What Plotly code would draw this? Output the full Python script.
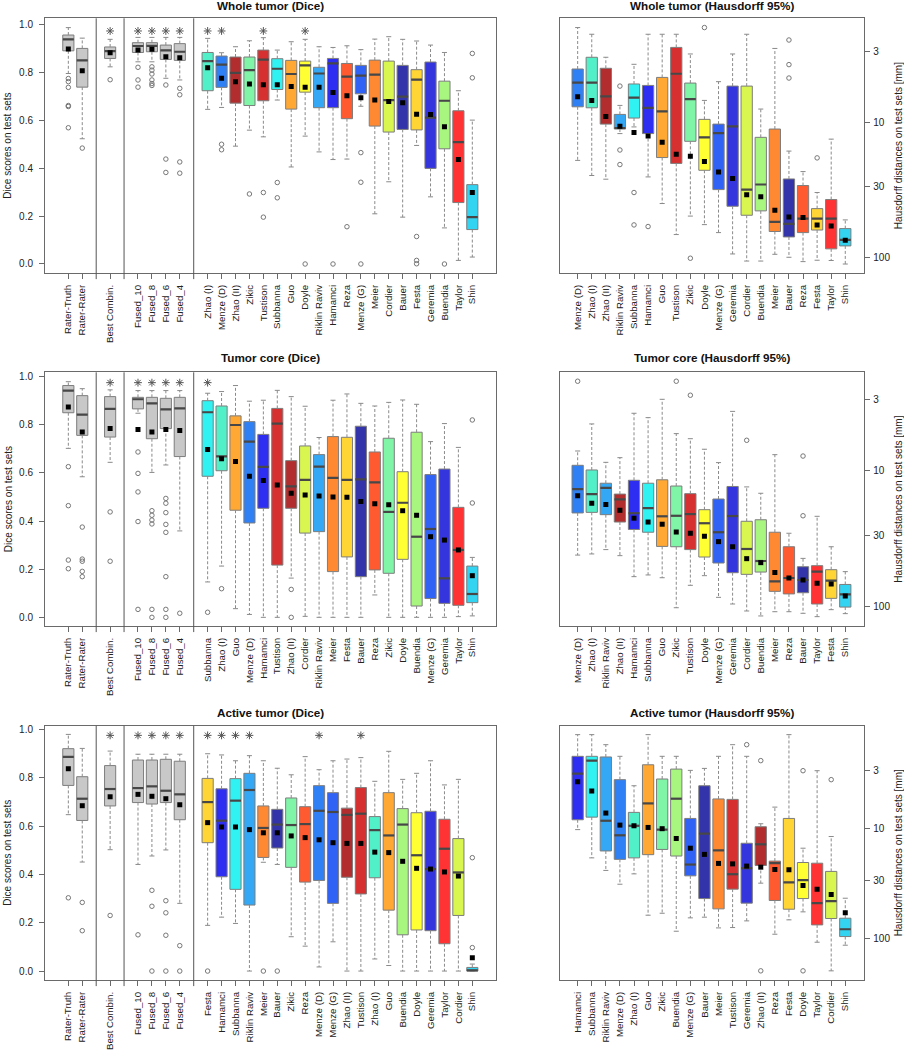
import plotly.graph_objects as go

FONT = "Liberation Sans, Arial, sans-serif"
TXT = "#222222"
FRAME = "#6a6a6a"
BOX_LINE = "#7d7d7d"
WHISK = "#8a8a8a"
MED = "#474747"
REF_GRAY = "#C8C8C8"
STAR_Y = 0.975

COLORS = {
    "Zhao (I)": "#52F0C8", "Menze (D)": "#2F80F5", "Zhao (II)": "#B22E2E",
    "Zikic": "#80F5A8", "Tustison": "#D63030", "Subbanna": "#30F2F2",
    "Guo": "#FFA833", "Doyle": "#FFFF33", "Riklin Raviv": "#35A8F5",
    "Hamamci": "#2E2EF2", "Reza": "#FF5A30", "Menze (G)": "#3062F5",
    "Meier": "#FF8833", "Cordier": "#D8F550", "Bauer": "#3333AA",
    "Festa": "#FFD535", "Geremia": "#3535DD", "Buendia": "#A8F580",
    "Taylor": "#FF3333", "Shin": "#33D3F2",
}

REF_GROUPS = [["Rater-Truth", "Rater-Rater"], ["Best Combin."],
              ["Fused_10", "Fused_8", "Fused_6", "Fused_4"]]
REF_NAMES = [n for g in REF_GROUPS for n in g]

# ---------------- Whole tumor (Dice) ----------------
wt_dice_methods = ["Zhao (I)", "Menze (D)", "Zhao (II)", "Zikic", "Tustison", "Subbanna", "Guo", "Doyle",
                   "Riklin Raviv", "Hamamci", "Reza", "Menze (G)", "Meier", "Cordier", "Bauer", "Festa",
                   "Geremia", "Buendia", "Taylor", "Shin"]
wt_dice_lo = [0.797, 0.524, 0.825, 0.846, 0.846, 0.777, 0.77,
              0.647, 0.655, 0.493, 0.56, 0.532, 0.686, 0.406, 0.535, 0.469, 0.437, 0.439, 0.66, 0.21,
              0.344, 0.196, 0.496, 0.281, 0.151, 0.015, 0.029]
wt_dice_q1 = [0.892, 0.74, 0.86, 0.885, 0.888, 0.856, 0.852,
              0.725, 0.739, 0.673, 0.663, 0.683, 0.73, 0.648, 0.719, 0.654, 0.654, 0.608, 0.712, 0.577,
              0.552, 0.563, 0.561, 0.40, 0.482, 0.257, 0.144]
wt_dice_med = [0.94, 0.852, 0.891, 0.912, 0.913, 0.894, 0.888,
               0.849, 0.834, 0.80, 0.811, 0.855, 0.817, 0.795, 0.831, 0.797, 0.839, 0.784, 0.788, 0.792,
               0.686, 0.70, 0.771, 0.612, 0.683, 0.51, 0.196]
wt_dice_q3 = [0.958, 0.902, 0.908, 0.926, 0.926, 0.916, 0.922,
              0.885, 0.870, 0.866, 0.866, 0.895, 0.859, 0.852, 0.849, 0.823, 0.86, 0.839, 0.831, 0.853,
              0.849, 0.831, 0.813, 0.845, 0.765, 0.641, 0.332]
wt_dice_hi = [0.989, 0.945, 0.94, 0.948, 0.948, 0.948, 0.948,
              0.944, 0.884, 0.909, 0.934, 0.947, 0.895, 0.93, 0.94, 0.909, 0.906, 0.913, 0.897, 0.941,
              0.951, 0.94, 0.933, 0.916, 0.885, 0.725, 0.602]
wt_dice_mean = [0.90, 0.809, 0.884, 0.895, 0.898, 0.867, 0.863,
                0.821, 0.777, 0.763, 0.753, 0.75, 0.75, 0.743, 0.74, 0.739, 0.718, 0.704, 0.696, 0.686,
                0.68, 0.675, 0.627, 0.626, 0.574, 0.437, 0.299]
wt_dice_out = {
    "Rater-Truth": [0.776, 0.763, 0.739, 0.663, 0.659, 0.57], "Rater-Rater": [0.485],
    "Best Combin.": [0.771], "Fused_10": [0.823, 0.77, 0.74],
    "Fused_8": [0.825, 0.811, 0.795, 0.77, 0.755, 0.747], "Fused_6": [0.749, 0.439, 0.383],
    "Fused_4": [0.735, 0.708, 0.427, 0.38], "Menze (D)": [0.501, 0.478], "Zikic": [0.293],
    "Tustison": [0.299, 0.196], "Subbanna": [0.341, 0.277], "Doyle": [0.0], "Hamamci": [0.0],
    "Reza": [0.156], "Menze (G)": [0.466, 0.342, 0.0], "Festa": [0.115, 0.015, 0.001],
    "Buendia": [0.0], "Shin": [0.881, 0.779],
}
wt_dice_stars = ["Best Combin.", "Fused_10", "Fused_8", "Fused_6", "Fused_4",
                 "Zhao (I)", "Menze (D)", "Tustison", "Doyle"]

# ---------------- Whole tumor (Hausdorff 95%) ----------------
wt_hd_methods = ["Menze (D)", "Zhao (I)", "Zhao (II)", "Riklin Raviv", "Subbanna", "Hamamci", "Guo", "Tustison",
                 "Zikic", "Doyle", "Menze (G)", "Geremia", "Cordier", "Buendia", "Meier", "Bauer", "Reza",
                 "Festa", "Taylor", "Shin"]
wt_hd_lo = [1.99, 2.23, 3.3, 7.49, 3.72, 2.23, 2.23, 2.23, 3.12, 6.88, 5.0, 3.12, 2.23, 7.97, 2.84, 16.3, 23.1,
            33.0, 13.3, 52.6]
wt_hd_q1 = [4.03, 3.30, 3.98, 8.73, 5.2, 5.33, 4.65, 2.79, 5.12, 9.5, 10.3, 5.39, 5.39, 12.9, 11.2, 26.2, 29.3,
            43.4, 37.2, 61.0]
wt_hd_med = [5.09, 5.09, 6.43, 11.0, 6.57, 7.8, 8.3, 4.37, 6.72, 12.9, 12.0, 10.7, 31.4, 28.8, 54.4, 56.3, 51.4,
             51.4, 51.4, 73.8]
wt_hd_q3 = [7.67, 7.8, 10.3, 11.2, 9.29, 12.1, 18.2, 20.1, 13.8, 22.6, 31.4, 41.7, 48.6, 45.1, 64.1, 70.3, 65.3,
            62.5, 86.1, 81.9]
wt_hd_hi = [19.1, 24.7, 26.3, 12.1, 10.8, 25.3, 39.8, 67.5, 49.3, 57.0, 65.3, 93.9, 106, 106, 94.5, 99.4, 107,
            104.5, 105, 111.5]
wt_hd_mean = [6.46, 6.88, 9.04, 10.7, 11.9, 12.6, 14.0, 17.2, 17.8, 19.5, 23.3, 26.0, 34.3, 35.5, 44.6, 50.0,
              50.6, 57.3, 58.3, 74.3]
wt_hd_out = {"Riklin Raviv": [5.39, 16.0, 20.5], "Subbanna": [33.0, 57.3], "Hamamci": [58.9], "Zikic": [101],
             "Doyle": [1.99], "Bauer": [2.46, 3.74, 4.70], "Festa": [18.3]}

# ---------------- Tumor core (Dice) ----------------
tc_dice_methods = ["Subbanna", "Zhao (I)", "Guo", "Menze (D)", "Hamamci", "Tustison", "Zhao (II)", "Cordier",
                   "Riklin Raviv", "Meier", "Festa", "Bauer", "Reza", "Zikic", "Doyle", "Buendia", "Menze (G)",
                   "Geremia", "Taylor", "Shin"]
tc_dice_lo = [0.702, 0.584, 0.644, 0.848, 0.602, 0.633, 0.359,
              0.147, 0.213, 0.036, 0.012, 0.0, 0.0, 0.163, 0.004, 0.0, 0.0, 0.0, 0.0, 0.093, 0.0, 0.0, 0.0,
              0.0, 0.0, 0.003, 0.006]
tc_dice_q1 = [0.85, 0.756, 0.749, 0.866, 0.742, 0.784, 0.668,
              0.586, 0.609, 0.445, 0.392, 0.453, 0.217, 0.453, 0.35, 0.356, 0.19, 0.251, 0.169, 0.197, 0.183,
              0.241, 0.047, 0.078, 0.058, 0.05, 0.061]
tc_dice_med = [0.942, 0.842, 0.866, 0.906, 0.889, 0.864, 0.868,
               0.852, 0.669, 0.799, 0.73, 0.625, 0.805, 0.544, 0.571, 0.626, 0.579, 0.571, 0.573, 0.561, 0.438,
               0.476, 0.335, 0.367, 0.162, 0.28, 0.097]
tc_dice_q3 = [0.963, 0.921, 0.917, 0.914, 0.914, 0.91, 0.914,
              0.90, 0.878, 0.837, 0.813, 0.76, 0.868, 0.651, 0.712, 0.676, 0.751, 0.748, 0.794, 0.687, 0.744,
              0.605, 0.769, 0.593, 0.616, 0.457, 0.213]
tc_dice_hi = [0.979, 0.95, 0.945, 0.942, 0.942, 0.942, 0.942,
              0.931, 0.938, 0.963, 0.898, 0.902, 0.943, 0.917, 0.877, 0.747, 0.902, 0.928, 0.889, 0.878,
              0.893, 0.903, 0.885, 0.73, 0.805, 0.706, 0.249]
tc_dice_mean = [0.874, 0.77, 0.785, 0.78, 0.77, 0.78, 0.776,
                0.697, 0.659, 0.647, 0.586, 0.568, 0.55, 0.515, 0.508, 0.504, 0.50, 0.499, 0.481, 0.472,
                0.468, 0.443, 0.424, 0.335, 0.321, 0.28, 0.173]
tc_dice_out = {
    "Rater-Truth": [0.626, 0.464, 0.238, 0.202], "Rater-Rater": [0.375, 0.242, 0.233, 0.191, 0.169],
    "Best Combin.": [0.438, 0.233], "Fused_10": [0.687, 0.598, 0.521, 0.398, 0.033],
    "Fused_8": [0.443, 0.424, 0.404, 0.388, 0.033, 0.0],
    "Fused_6": [0.494, 0.474, 0.435, 0.386, 0.353, 0.169, 0.033, 0.0], "Fused_4": [0.017],
    "Subbanna": [0.021], "Zhao (I)": [0.119], "Zhao (II)": [0.116, 0.0], "Shin": [0.82, 0.475],
}
tc_dice_stars = ["Best Combin.", "Fused_10", "Fused_8", "Fused_6", "Fused_4", "Subbanna"]

# ---------------- Tumor core (Hausdorff 95%) ----------------
tc_hd_methods = ["Menze (D)", "Zhao (I)", "Riklin Raviv", "Zhao (II)", "Hamamci", "Subbanna", "Guo", "Zikic",
                 "Tustison", "Doyle", "Menze (G)", "Geremia", "Cordier", "Buendia", "Meier", "Reza", "Bauer",
                 "Taylor", "Festa", "Shin"]
tc_hd_lo = [7.19, 4.55, 8.71, 8.05, 3.8, 4.09, 3.0, 5.36, 5.84, 6.98, 8.75, 3.68, 13.2, 14.7, 7.65, 28.9, 44.2,
            21.7, 36.3, 55.3]
tc_hd_q1 = [9.16, 9.91, 12.4, 14.9, 11.8, 12.4, 11.7, 13.0, 14.8, 19.4, 16.2, 13.1, 23.6, 23.0, 28.4, 36.3, 50.9,
            50.0, 53.5, 68.7]
tc_hd_med = [13.7, 14.9, 13.4, 16.3, 20.6, 18.9, 21.7, 21.5, 20.9, 24.4, 28.4, 21.6, 37.7, 46.2, 65.2, 61.6,
             63.7, 55.3, 64.4, 81.3]
tc_hd_q3 = [20.5, 20.3, 21.1, 23.9, 27.1, 28.4, 36.1, 36.3, 38.1, 43.2, 47.8, 56.3, 57.9, 55.7, 77.2, 80.6, 79.0,
            95.6, 86.9, 100.7]
tc_hd_hi = [41.8, 41.0, 38.1, 42.2, 60.2, 58.5, 61.3, 101.8, 69.7, 59.2, 85.4, 95.6, 107.6, 117, 108.9, 108.9,
            111.9, 118.4, 105.2, 112.5]
tc_hd_mean = [15.3, 17.4, 17.8, 19.6, 22.4, 23.9, 24.8, 28.3, 28.9, 30.4, 33.3, 36.3, 44.4, 47.5, 56.0, 61.6,
              63.7, 67.4, 68.2, 83.6]
tc_hd_out = {"Menze (D)": [2.21], "Zikic": [2.21], "Tustison": [2.8], "Cordier": [6.0], "Bauer": [7.83, 21.5]}

# ---------------- Active tumor (Dice) ----------------
at_dice_methods = ["Festa", "Hamamci", "Subbanna", "Riklin Raviv", "Meier", "Bauer", "Zikic", "Reza",
                   "Menze (D)", "Menze (G)", "Zhao (II)", "Tustison", "Zhao (I)", "Guo", "Buendia", "Doyle",
                   "Geremia", "Taylor", "Cordier", "Shin"]
at_dice_lo = [0.647, 0.451, 0.502, 0.441, 0.476, 0.501, 0.28,
              0.189, 0.223, 0.197, 0.0, 0.45, 0.441, 0.142, 0.103, 0.017, 0.121, 0.0, 0.0, 0.05, 0.023, 0.0,
              0.0, 0.0, 0.0, 0.0, 0.0]
at_dice_q1 = [0.768, 0.623, 0.683, 0.697, 0.691, 0.697, 0.626,
              0.531, 0.39, 0.338, 0.273, 0.47, 0.509, 0.429, 0.368, 0.375, 0.28, 0.388, 0.319, 0.386, 0.252,
              0.15, 0.17, 0.167, 0.113, 0.23, 0.0]
at_dice_med = [0.886, 0.713, 0.753, 0.757, 0.764, 0.746, 0.731,
               0.699, 0.622, 0.705, 0.749, 0.592, 0.606, 0.604, 0.608, 0.663, 0.658, 0.646, 0.651, 0.583,
               0.561, 0.606, 0.479, 0.422, 0.506, 0.408, 0.003]
at_dice_q3 = [0.92, 0.804, 0.85, 0.873, 0.873, 0.876, 0.868,
              0.797, 0.754, 0.796, 0.818, 0.683, 0.669, 0.716, 0.68, 0.767, 0.738, 0.674, 0.759, 0.639, 0.738,
              0.672, 0.655, 0.661, 0.628, 0.548, 0.015]
at_dice_hi = [0.979, 0.921, 0.91, 0.897, 0.897, 0.897, 0.897,
              0.899, 0.894, 0.87, 0.891, 0.87, 0.839, 0.812, 0.887, 0.833, 0.87, 0.877, 0.883, 0.785, 0.909,
              0.793, 0.818, 0.87, 0.77, 0.793, 0.029]
at_dice_mean = [0.837, 0.684, 0.721, 0.731, 0.723, 0.713, 0.688,
                0.614, 0.596, 0.596, 0.585, 0.572, 0.572, 0.559, 0.552, 0.543, 0.531, 0.528, 0.528, 0.492,
                0.49, 0.454, 0.425, 0.422, 0.41, 0.393, 0.055]
at_dice_out = {
    "Rater-Truth": [0.303], "Rater-Rater": [0.284, 0.167], "Best Combin.": [0.23], "Fused_10": [0.15],
    "Fused_8": [0.334, 0.268, 0.0], "Fused_6": [0.291, 0.241, 0.148, 0.0], "Fused_4": [0.105, 0.0],
    "Festa": [0.0], "Meier": [0.0], "Bauer": [0.0], "Shin": [0.469, 0.097],
}
at_dice_stars = ["Best Combin.", "Fused_10", "Fused_8", "Fused_6", "Fused_4", "Festa", "Hamamci", "Subbanna",
                 "Riklin Raviv", "Menze (D)", "Tustison"]

# ---------------- Active tumor (Hausdorff 95%) ----------------
at_hd_methods = ["Hamamci", "Subbanna", "Riklin Raviv", "Menze (D)", "Zhao (I)", "Guo", "Zikic", "Buendia",
                 "Menze (G)", "Bauer", "Meier", "Tustison", "Geremia", "Zhao (II)", "Reza", "Festa", "Doyle",
                 "Taylor", "Cordier", "Shin"]
at_hd_lo = [1.41, 1.41, 1.74, 2.22, 4.11, 1.41, 2.22, 2.22, 2.98, 2.86, 2.22, 1.74, 2.22, 9.11, 6.43, 1.41, 15.2,
            3.0, 11.9, 43.3]
at_hd_q1 = [2.22, 2.22, 2.25, 3.62, 7.18, 2.65, 3.57, 2.9, 8.15, 4.11, 5.42, 5.47, 13.7, 9.7, 19.9, 8.15, 20.5,
            20.8, 24.7, 65.8]
at_hd_med = [3.19, 2.43, 8.55, 11.6, 9.5, 5.95, 10.3, 5.39, 21.4, 11.2, 15.9, 26.2, 23.1, 14.0, 20.8, 31.1,
             29.7, 48.0, 46.1, 82.9]
at_hd_q3 = [8.38, 7.93, 16.1, 19.2, 18.6, 17.4, 15.6, 17.9, 27.1, 43.6, 54.1, 35.8, 48.0, 21.8, 45.4, 54.5, 43.6,
            75.7, 66.2, 96.6]
at_hd_hi = [10.3, 18.6, 24.2, 32.3, 26.0, 61.8, 59.3, 86.4, 65.3, 64.4, 80.6, 80.0, 69.6, 31.6, 92.0, 68.1, 57.6,
            108.8, 198, 115.8]
at_hd_mean = [3.78, 4.59, 7.28, 9.37, 9.5, 9.84, 10.1, 12.4, 15.2, 17.3, 20.9, 21.1, 22.1, 22.6, 23.7, 23.9,
              33.2, 35.8, 40.1, 58.8]
at_hd_out = {"Geremia": [1.74], "Zhao (II)": [2.43, 198], "Doyle": [3.0, 198], "Cordier": [3.62]}

DICE_TICKS = [0.0, 0.2, 0.4, 0.6, 0.8, 1.0]
HD_TICKS = [3, 10, 30, 100]

# ---------------- layout geometry ----------------
W, H = 904, 1050
LEFT_X = (45 / W, 496 / W)
RIGHT_X = (560 / W, 864.3 / W)
ROW_Y = [(1 - 273 / H, 1 - 18.3 / H), (1 - 626 / H, 1 - 372.3 / H), (1 - 980 / H, 1 - 725.7 / H)]
TITLE_Y = [1 - 5.5 / H, 1 - 358 / H, 1 - 712 / H]
LEFT_XRANGE = [-0.675, 31.70]
RIGHT_XRANGE = [-0.254, 21.35]
DICE_YRANGE = [[-0.0377, 1.028], [-0.036, 1.018], [-0.037, 1.015]]
HD_YRANGE = [[2.1136, 0.2304], [2.142, 0.2788], [2.380, 0.068]]
BOX_W = 0.8

fig = go.Figure()


def left_positions(methods):
    groups = REF_GROUPS + [methods]
    pos, seps, p = [], [], 1
    for gi, g in enumerate(groups):
        if gi > 0:
            seps.append(p)
            p += 1
        for _ in g:
            pos.append(p)
            p += 1
    return pos, seps


def color_of(n):
    return COLORS.get(n, REF_GRAY)


def add_panel(k, names, lo, q1, med, q3, hi, mean, outl, stars, pos):
    xa = "x" if k == 0 else f"x{k + 1}"
    ya = "y" if k == 0 else f"y{k + 1}"
    common = dict(xaxis=xa, yaxis=ya, showlegend=False, hoverinfo="skip")
    # whiskers (dashed)
    wx, wy = [], []
    for i in range(len(names)):
        wx += [pos[i], pos[i], None, pos[i], pos[i], None]
        wy += [q3[i], hi[i], None, q1[i], lo[i], None]
    fig.add_trace(go.Scatter(x=wx, y=wy, mode="lines",
                             line=dict(color=WHISK, width=1, dash="3px,2px"), **common))
    # caps
    fig.add_trace(go.Scatter(x=pos + pos, y=list(lo) + list(hi), mode="markers",
                             marker=dict(symbol="line-ew", size=3.6, color=WHISK,
                                         line=dict(color=WHISK, width=1)), **common))
    # boxes
    for i, n in enumerate(names):
        fig.add_trace(go.Box(x=[pos[i]], q1=[q1[i]], median=[med[i]], q3=[q3[i]],
                             lowerfence=[q1[i]], upperfence=[q3[i]], width=BOX_W,
                             fillcolor=color_of(n), line=dict(color=BOX_LINE, width=1),
                             whiskerwidth=0, boxpoints=False, **common))
    # medians
    fig.add_trace(go.Scatter(x=pos, y=med, mode="markers",
                             marker=dict(symbol="line-ew", size=7.8, color=MED,
                                         line=dict(color=MED, width=2.2)), **common))
    # outliers
    ox, oy = [], []
    for i, n in enumerate(names):
        for v in outl.get(n, []):
            ox.append(pos[i])
            oy.append(v)
    fig.add_trace(go.Scatter(x=ox, y=oy, mode="markers",
                             marker=dict(symbol="circle-open", size=4.5, color="#777777",
                                         line=dict(width=1, color="#777777")), **common))
    # means
    fig.add_trace(go.Scatter(x=pos, y=mean, mode="markers",
                             marker=dict(symbol="square", size=5, color="black"), **common))
    # significance stars
    if stars:
        sx = [pos[names.index(s)] for s in stars]
        fig.add_trace(go.Scatter(x=sx, y=[STAR_Y] * len(sx), mode="markers",
                                 marker=dict(symbol="asterisk-open", size=6.5, color="#555555",
                                             line=dict(color="#555555", width=1)), **common))


panels = [
    ("Whole tumor (Dice)", wt_dice_methods, wt_dice_lo, wt_dice_q1, wt_dice_med, wt_dice_q3, wt_dice_hi,
     wt_dice_mean, wt_dice_out, wt_dice_stars),
    ("Whole tumor (Hausdorff 95%)", wt_hd_methods, wt_hd_lo, wt_hd_q1, wt_hd_med, wt_hd_q3, wt_hd_hi,
     wt_hd_mean, wt_hd_out, None),
    ("Tumor core (Dice)", tc_dice_methods, tc_dice_lo, tc_dice_q1, tc_dice_med, tc_dice_q3, tc_dice_hi,
     tc_dice_mean, tc_dice_out, tc_dice_stars),
    ("Tumor core (Hausdorff 95%)", tc_hd_methods, tc_hd_lo, tc_hd_q1, tc_hd_med, tc_hd_q3, tc_hd_hi,
     tc_hd_mean, tc_hd_out, None),
    ("Active tumor (Dice)", at_dice_methods, at_dice_lo, at_dice_q1, at_dice_med, at_dice_q3, at_dice_hi,
     at_dice_mean, at_dice_out, at_dice_stars),
    ("Active tumor (Hausdorff 95%)", at_hd_methods, at_hd_lo, at_hd_q1, at_hd_med, at_hd_q3, at_hd_hi,
     at_hd_mean, at_hd_out, None),
]

layout = dict(width=W, height=H, margin=dict(l=0, r=0, t=0, b=0), boxmode="overlay",
              plot_bgcolor="white", paper_bgcolor="white", font=dict(family=FONT, color=TXT, size=10),
              showlegend=False)
annotations, shapes = [], []
tickfont = dict(family=FONT, size=10, color=TXT)
xtickfont = dict(family=FONT, size=9.7, color=TXT)

for k, (title, methods, lo, q1, med, q3, hi, mean, outl, stars) in enumerate(panels):
    row, is_left = k // 2, k % 2 == 0
    if is_left:
        names = REF_NAMES + methods
        pos, seps = left_positions(methods)
    else:
        names = methods
        pos, seps = list(range(1, len(methods) + 1)), []
    add_panel(k, names, lo, q1, med, q3, hi, mean, outl, stars, pos)
    xk = "xaxis" if k == 0 else f"xaxis{k + 1}"
    yk = "yaxis" if k == 0 else f"yaxis{k + 1}"
    xa = "x" if k == 0 else f"x{k + 1}"
    ya = "y" if k == 0 else f"y{k + 1}"
    xdom = LEFT_X if is_left else RIGHT_X
    layout[xk] = dict(domain=list(xdom), anchor=ya, range=LEFT_XRANGE if is_left else RIGHT_XRANGE,
                      tickmode="array", tickvals=pos, ticktext=names, tickangle=-90,
                      ticks="outside", ticklen=5, tickcolor=FRAME, tickfont=xtickfont,
                      ticklabelstandoff=2, showline=True, mirror=True, linecolor=FRAME, linewidth=1,
                      showgrid=False, zeroline=False, automargin=False, fixedrange=True)
    if is_left:
        layout[yk] = dict(domain=list(ROW_Y[row]), anchor=xa, range=DICE_YRANGE[row],
                          tickmode="array", tickvals=DICE_TICKS,
                          ticktext=[f"{v:.1f}" for v in DICE_TICKS],
                          ticks="outside", ticklen=5, tickcolor=FRAME, tickfont=tickfont,
                          ticklabelstandoff=4, showline=True, mirror=True, linecolor=FRAME,
                          linewidth=1, showgrid=False, zeroline=False, automargin=False)
        annotations.append(dict(text="Dice scores on test sets", textangle=-90, xref="paper", yref="paper",
                                x=8 / W, y=sum(ROW_Y[row]) / 2, xanchor="center", yanchor="middle",
                                showarrow=False, font=dict(family=FONT, size=10, color=TXT)))
        for s in seps:
            shapes.append(dict(type="line", xref=xa, yref=f"{ya} domain", x0=s, x1=s, y0=-0.024, y1=1,
                               line=dict(color="#555555", width=1)))
    else:
        layout[yk] = dict(domain=list(ROW_Y[row]), anchor=xa, type="log", range=HD_YRANGE[row],
                          side="right", tickmode="array", tickvals=HD_TICKS,
                          ticktext=[str(v) for v in HD_TICKS],
                          ticks="outside", ticklen=5, tickcolor=FRAME, tickfont=tickfont,
                          ticklabelstandoff=1, showline=True, mirror=True, linecolor=FRAME,
                          linewidth=1, showgrid=False, zeroline=False, automargin=False)
        annotations.append(dict(text="Hausdorff distances on test sets [mm]", textangle=-90, xref="paper",
                                yref="paper", x=898.5 / W, y=sum(ROW_Y[row]) / 2, xanchor="center",
                                yanchor="middle", showarrow=False, font=dict(family=FONT, size=10, color=TXT)))
    annotations.append(dict(text=f"<b>{title}</b>", xref="paper", yref="paper",
                            x=sum(xdom) / 2, y=TITLE_Y[row], showarrow=False, xanchor="center",
                            yanchor="middle", font=dict(family=FONT, size=11.7, color="#111111")))

layout["annotations"] = annotations
layout["shapes"] = shapes
fig.update_layout(**layout)

fig.write_html("out.html", config={"displayModeBar": False},
               post_script="document.body.style.margin='0px';")
